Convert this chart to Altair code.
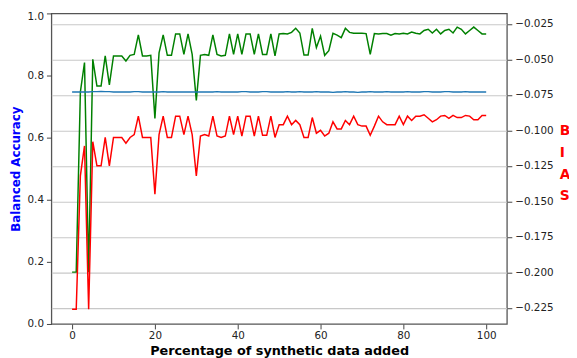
import altair as alt
import pandas as pd

# ---- data ----
pct = list(range(0, 101))

accuracy = [
    0.167, 0.167, 0.747, 0.842, 0.167, 0.852, 0.766, 0.766, 0.863, 0.770,
    0.863, 0.863, 0.863, 0.847, 0.865, 0.868, 0.931, 0.863, 0.863, 0.865,
    0.662, 0.873, 0.931, 0.865, 0.865, 0.934, 0.934, 0.868, 0.934, 0.868,
    0.720, 0.865, 0.868, 0.865, 0.931, 0.868, 0.863, 0.865, 0.934, 0.868,
    0.934, 0.868, 0.934, 0.934, 0.868, 0.934, 0.868, 0.868, 0.934, 0.863,
    0.934, 0.935, 0.934, 0.939, 0.952, 0.937, 0.866, 0.866, 0.952, 0.890,
    0.927, 0.865, 0.880, 0.936, 0.930, 0.922, 0.952, 0.939, 0.936, 0.936,
    0.936, 0.935, 0.868, 0.935, 0.934, 0.935, 0.935, 0.930, 0.935, 0.934,
    0.936, 0.934, 0.940, 0.936, 0.934, 0.945, 0.949, 0.937, 0.949, 0.934,
    0.945, 0.949, 0.937, 0.956, 0.949, 0.934, 0.945, 0.956, 0.945, 0.934,
    0.934,
]

baseline = [
    0.747, 0.747, 0.747, 0.747, 0.747, 0.748, 0.748, 0.749, 0.748, 0.748,
    0.747, 0.747, 0.747, 0.747, 0.747, 0.748, 0.748, 0.747, 0.747, 0.747,
    0.747, 0.747, 0.748, 0.747, 0.747, 0.747, 0.747, 0.747, 0.747, 0.747,
    0.747, 0.747, 0.747, 0.747, 0.747, 0.748, 0.747, 0.747, 0.747, 0.747,
    0.747, 0.748, 0.748, 0.747, 0.747, 0.747, 0.748, 0.748, 0.747, 0.747,
    0.747, 0.747, 0.748, 0.747, 0.747, 0.748, 0.747, 0.747, 0.747, 0.748,
    0.747, 0.747, 0.747, 0.746, 0.747, 0.747, 0.748, 0.747, 0.747, 0.746,
    0.747, 0.747, 0.748, 0.747, 0.747, 0.747, 0.748, 0.747, 0.747, 0.747,
    0.747, 0.748, 0.747, 0.747, 0.747, 0.748, 0.748, 0.747, 0.747, 0.747,
    0.748, 0.748, 0.747, 0.747, 0.747, 0.748, 0.747, 0.747, 0.747, 0.747,
    0.747,
]

bias = [
    -0.226, -0.226, -0.132, -0.111, -0.226, -0.108, -0.125, -0.125, -0.105, -0.125,
    -0.105, -0.105, -0.105, -0.109, -0.105, -0.103, -0.090, -0.105, -0.105, -0.105,
    -0.145, -0.103, -0.090, -0.105, -0.105, -0.090, -0.090, -0.103, -0.090, -0.103,
    -0.132, -0.104, -0.103, -0.104, -0.090, -0.104, -0.105, -0.104, -0.090, -0.103,
    -0.090, -0.104, -0.090, -0.090, -0.104, -0.090, -0.1035, -0.1035, -0.090, -0.105,
    -0.096, -0.096, -0.090, -0.096, -0.093, -0.096, -0.105, -0.105, -0.091, -0.102,
    -0.100, -0.104, -0.102, -0.094, -0.099, -0.099, -0.093, -0.096, -0.090, -0.096,
    -0.097, -0.097, -0.1035, -0.097, -0.090, -0.094, -0.096, -0.096, -0.096, -0.090,
    -0.096, -0.090, -0.093, -0.090, -0.090, -0.089, -0.0915, -0.094, -0.0925, -0.090,
    -0.0895, -0.0915, -0.0895, -0.091, -0.091, -0.0895, -0.090, -0.0925, -0.0925, -0.0895,
    -0.0895,
]

x_ticks = [0, 20, 40, 60, 80, 100]
left_ticks = [0.0, 0.2, 0.4, 0.6, 0.8, 1.0]
right_ticks = [-0.225, -0.2, -0.175, -0.15, -0.125, -0.1, -0.075, -0.05, -0.025]

df = pd.DataFrame({"pct": pct, "accuracy": accuracy, "baseline": baseline, "bias": bias})

FONT = "DejaVu Sans"

x_enc = alt.X(
    "pct:Q",
    scale=alt.Scale(domain=[-5, 105], nice=False, zero=False),
    axis=alt.Axis(
        values=x_ticks, format="d", title="Percentage of synthetic data added",
        titleFontSize=13, titleFontWeight="bold", titleColor="black",
        titlePadding=3, labelPadding=2, grid=False, domain=False,
    ),
)

left_scale = alt.Scale(domain=[0, 1], nice=False, zero=False)

base_line = alt.Chart(df).mark_line(color="#1f77b4", strokeWidth=1.3).encode(
    x=x_enc,
    y=alt.Y("baseline:Q", scale=left_scale, axis=None),
)

acc_line = alt.Chart(df).mark_line(color="green", strokeWidth=1.5).encode(
    x=x_enc,
    y=alt.Y(
        "accuracy:Q", scale=left_scale,
        axis=alt.Axis(
            orient="left", values=left_ticks, format=".1f", grid=False, domain=False,
            labelOffset={"condition": {"test": "datum.value >= 1", "value": 3}, "value": 0},
            title="Balanced Accuracy", titleColor="blue", titleFontWeight="bold",
            titleFontSize=12, titlePadding=5,
        ),
    ),
)

bias_line = alt.Chart(df).mark_line(color="red", strokeWidth=1.5).encode(
    x=x_enc,
    y=alt.Y(
        "bias:Q",
        scale=alt.Scale(domain=[-0.2363, -0.0177], nice=False, zero=False),
        axis=alt.Axis(
            orient="right", values=right_ticks, format=".3f", grid=True, domain=False,
            gridColor="#c8c8c8", gridWidth=1.2,
            title=["B", "I", "A", "S"], titleColor="red", titleFontWeight="bold",
            titleFontSize=14, titleAngle=0, titleAlign="left", titleBaseline="top",
            titleLineHeight=22, titleX=53, titleY=112,
        ),
    ),
)

chart = (
    alt.layer(acc_line, base_line, bias_line)
    .resolve_scale(y="independent")
    .properties(
        width=462, height=315,
        autosize=alt.AutoSizeParams(type="none"),
        padding={"left": 44, "top": 3, "right": 63, "bottom": 32},
        background="white",
    )
    .configure_axis(
        labelFont=FONT, titleFont=FONT, labelFontSize=10.5, labelColor="#222",
        tickColor="#444", tickSize=5, labelPadding=3, labelFlush=False,
    )
    .configure_view(stroke="#555", strokeWidth=1.3)
)

chart.save("out.html", embed_options={"renderer": "svg", "actions": False})
